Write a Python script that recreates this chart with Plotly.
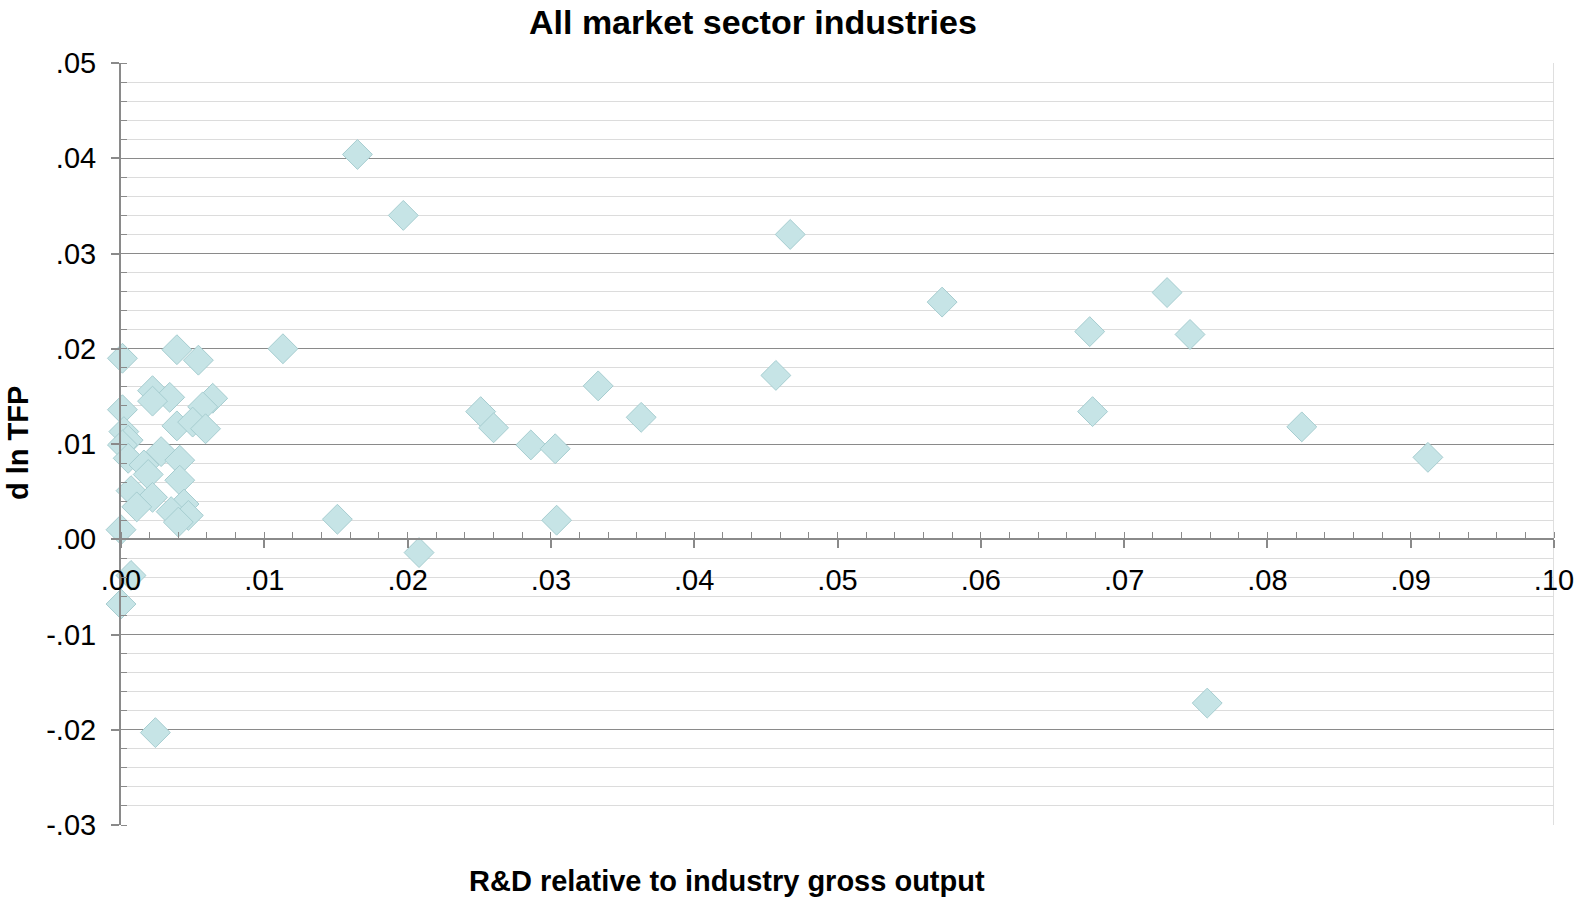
import plotly.graph_objects as go

# R&D relative to industry gross output (x) vs d ln TFP (y)
rd_intensity = [
    0.0165, 0.0197, 0.0467, 0.0573, 0.0730, 0.0676, 0.0746, 0.0678, 0.0824, 0.0912,
    0.0758, 0.0457, 0.0333, 0.0363, 0.0251, 0.0260, 0.0286, 0.0303, 0.0304, 0.0208,
    0.0151, 0.0113, 0.0024, 0.0000, 0.0007,
    0.0001, 0.0039, 0.0054, 0.0022, 0.0034, 0.0022, 0.0064, 0.0057, 0.0001, 0.0039,
    0.0050, 0.0059, 0.0002, 0.0005, 0.0001, 0.0005, 0.0028, 0.0041, 0.0016, 0.0019,
    0.0041, 0.0007, 0.0022, 0.0011, 0.0044, 0.0035, 0.0047, 0.0040, 0.0000,
]
dln_tfp = [
    0.0404, 0.0340, 0.0320, 0.0249, 0.0259, 0.0218, 0.0215, 0.0134, 0.0118, 0.0086,
    -0.0172, 0.0172, 0.0161, 0.0128, 0.0134, 0.0117, 0.0099, 0.0095, 0.0020, -0.0014,
    0.0021, 0.0200, -0.0203, -0.0068, -0.0038,
    0.0190, 0.0199, 0.0188, 0.0156, 0.0149, 0.0145, 0.0148, 0.0139, 0.0136, 0.0119,
    0.0123, 0.0116, 0.0113, 0.0104, 0.0099, 0.0085, 0.0092, 0.0083, 0.0078, 0.0068,
    0.0062, 0.0051, 0.0044, 0.0034, 0.0037, 0.0029, 0.0025, 0.0018, 0.0010,
]

x_tickvals = [0.00, 0.01, 0.02, 0.03, 0.04, 0.05, 0.06, 0.07, 0.08, 0.09, 0.10]
x_ticktext = [".00", ".01", ".02", ".03", ".04", ".05", ".06", ".07", ".08", ".09", ".10"]
y_tickvals = [-0.03, -0.02, -0.01, 0.00, 0.01, 0.02, 0.03, 0.04, 0.05]
y_ticktext = ["-.03", "-.02", "-.01", ".00", ".01", ".02", ".03", ".04", ".05"]

FONT = "Liberation Sans, Arial, sans-serif"
x_range = [0, 0.10]
y_range = [-0.03, 0.05]

fig = go.Figure()
fig.add_trace(go.Scatter(
    x=rd_intensity, y=dln_tfp, mode="markers", cliponaxis=False,
    marker=dict(symbol="diamond", size=23, color="#c6e4e6",
                line=dict(color="#a6cdd0", width=1)),
    hoverinfo="x+y", showlegend=False,
))

x_axis_pos = (0 - y_range[0]) / (y_range[1] - y_range[0])

fig.update_layout(
    width=1579, height=901,
    paper_bgcolor="white", plot_bgcolor="white",
    margin=dict(l=121, r=25, t=63, b=76),
    font=dict(family=FONT, size=29, color="black"),
    xaxis=dict(
        range=x_range, anchor="free", position=x_axis_pos, automargin=False,
        showgrid=False, zeroline=False,
        showline=True, linecolor="#8a8a8a", linewidth=2,
        tickmode="array", tickvals=x_tickvals, ticktext=x_ticktext,
        ticks="outside", ticklen=8, tickwidth=2, tickcolor="#8a8a8a",
        ticklabelstandoff=7,
        minor=dict(dtick=0.002, ticks="inside", ticklen=6, tickwidth=1,
                   tickcolor="#8a8a8a", showgrid=False),
        tickfont=dict(size=29),
    ),
    yaxis=dict(
        range=y_range, zeroline=False, automargin=False,
        showgrid=True, gridcolor="#8a8a8a", gridwidth=1,
        showline=True, linecolor="#8a8a8a", linewidth=2,
        tickmode="array", tickvals=y_tickvals, ticktext=y_ticktext,
        ticks="outside", ticklen=8, tickwidth=2, tickcolor="#8a8a8a",
        ticklabelstandoff=9,
        minor=dict(dtick=0.002, tick0=0, ticks="inside", ticklen=6, tickwidth=1,
                   tickcolor="#8a8a8a", showgrid=True, gridcolor="#dcdcdc",
                   gridwidth=1),
        tickfont=dict(size=29),
    ),
    shapes=[dict(type="line", xref="x", yref="paper", x0=x_range[1], x1=x_range[1],
                 y0=0, y1=1, line=dict(color="#d4d4d4", width=1.5), layer="below")],
    annotations=[
        dict(text="<b>All market sector industries</b>", xref="paper", yref="paper",
             x=(753 - 121) / (1579 - 121 - 25), y=1 + (63 - 22) / (901 - 63 - 76),
             xanchor="center", yanchor="middle", showarrow=False,
             font=dict(size=34, family=FONT)),
        dict(text="<b>R&D relative to industry gross output</b>", xref="paper", yref="paper",
             x=(727 - 121) / (1579 - 121 - 25), y=-(881 - 825) / (901 - 63 - 76),
             xanchor="center", yanchor="middle", showarrow=False,
             font=dict(size=29, family=FONT)),
        dict(text="<b>d ln TFP</b>", xref="paper", yref="paper",
             x=-(121 - 18) / (1579 - 121 - 25), y=(825 - 443) / (901 - 63 - 76),
             xanchor="center", yanchor="middle", textangle=-90, showarrow=False,
             font=dict(size=29, family=FONT)),
    ],
)

fig.write_html("out.html")
